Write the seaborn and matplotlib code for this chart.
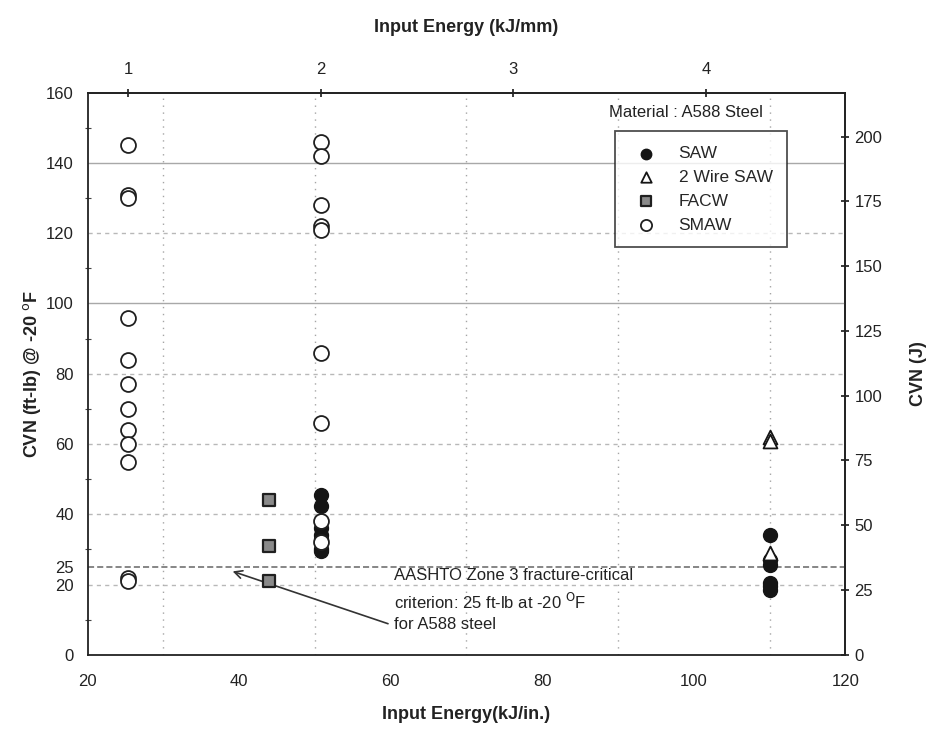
import numpy as np
import pandas as pd
import matplotlib
matplotlib.use("Agg")
import matplotlib.pyplot as plt
import seaborn as sns

# ---- data ----
saw_x = [50.8] * 7 + [110] * 6
saw_y = [45.5, 42.5, 36, 34, 33, 30, 29.5, 34, 27, 25.5, 20.5, 19.5, 18.5]
wire2_x = [110, 110, 110]
wire2_y = [62, 61, 29]
facw_x = [44, 44, 44]
facw_y = [44, 31, 21]
smaw_x = [25.4] * 12 + [50.8] * 9
smaw_y = [145, 131, 130, 96, 84, 77, 70, 64, 60, 55, 22, 21,
          146, 142, 128, 122, 121, 86, 66, 38, 32]

left_ticks = [0, 20, 25, 40, 60, 80, 100, 120, 140, 160]
right_ticks = [0, 25, 50, 75, 100, 125, 150, 175, 200]
bottom_ticks = [20, 40, 60, 80, 100, 120]
top_ticks = [1, 2, 3, 4]
criterion = 25
FTLB_TO_J = 1.3558
IN_PER_MM = 25.4

sns.set_theme(style="white")
plt.rcParams['font.family'] = ['Liberation Sans', 'DejaVu Sans']

fig = plt.figure(figsize=(9.31, 7.30), dpi=100)
ax = fig.add_axes([0.094, 0.103, 0.814, 0.770])

df_saw = pd.DataFrame({"x": saw_x, "y": saw_y})
df_w2 = pd.DataFrame({"x": wire2_x, "y": wire2_y})
df_facw = pd.DataFrame({"x": facw_x, "y": facw_y})
df_smaw = pd.DataFrame({"x": smaw_x, "y": smaw_y})

sns.scatterplot(data=df_saw, x="x", y="y", ax=ax, marker="o", s=100,
                color="#151515", edgecolor="#151515", linewidth=1.0,
                label="SAW", zorder=3)
sns.scatterplot(data=df_w2, x="x", y="y", ax=ax, marker="^", s=100,
                facecolor="white", edgecolor="#151515", linewidth=1.3,
                label="2 Wire SAW", zorder=4)
sns.scatterplot(data=df_facw, x="x", y="y", ax=ax, marker="s", s=85,
                color="#8a8a8a", edgecolor="#202020", linewidth=1.6,
                label="FACW", zorder=4)
sns.scatterplot(data=df_smaw, x="x", y="y", ax=ax, marker="o", s=115,
                facecolor="white", edgecolor="#202020", linewidth=1.3,
                label="SMAW", zorder=5)

ax.set_xlim(20, 120)
ax.set_ylim(0, 160)
ax.set_xticks(bottom_ticks)
ax.set_yticks(left_ticks)
ax.set_yticks(np.arange(0, 161, 10), minor=True)
ax.tick_params(axis='both', which='major', labelsize=12, direction='inout',
               length=6, width=1, colors='#222222', labelcolor='#222222')
ax.tick_params(axis='x', which='major', pad=11)
ax.tick_params(axis='y', which='major', pad=7)
ax.tick_params(axis='y', which='minor', direction='inout', length=4,
               width=0.8, left=True, colors='#444444')

# grid lines
for gx in [30, 50, 70, 90, 110]:
    ax.axvline(gx, color='#a5a5a5', lw=1.0, ls=(0, (1, 4)), zorder=1)
for gy in [20, 40, 60, 80, 120]:
    ax.axhline(gy, color='#b8b8b8', lw=1.0, ls=(0, (3, 3)), zorder=1)
for gy in [100, 140]:
    ax.axhline(gy, color='#a8a8a8', lw=1.0, ls='-', zorder=1)
ax.axhline(criterion, color='#666666', lw=1.1, ls=(0, (4, 2)), zorder=2)

for sp in ax.spines.values():
    sp.set_color('#222222')
    sp.set_linewidth(1.3)

ax.set_xlabel("Input Energy(kJ/in.)", fontsize=13, fontweight='bold',
              color='#222222', labelpad=12)
ax.set_ylabel("CVN (ft-lb) @ -20 $^{\\mathrm{o}}$F", fontsize=13,
              fontweight='bold', color='#222222', labelpad=2)

# top axis (kJ/mm)
top = ax.secondary_xaxis('top', functions=(lambda v: v / IN_PER_MM,
                                           lambda v: v * IN_PER_MM))
top.set_xticks(top_ticks)
top.tick_params(labelsize=12, direction='inout', length=6, colors='#222222',
                pad=8)
top.set_xlabel("Input Energy (kJ/mm)", fontsize=13, fontweight='bold',
               color='#222222', labelpad=22)

# right axis (J)
right = ax.secondary_yaxis('right', functions=(lambda v: v * FTLB_TO_J,
                                               lambda v: v / FTLB_TO_J))
right.set_yticks(right_ticks)
right.tick_params(labelsize=12, direction='inout', length=6, colors='#222222')
right.set_ylabel("CVN (J)", fontsize=13, fontweight='bold', color='#222222',
                 labelpad=20)

# legend
leg = ax.legend(loc='upper left', bbox_to_anchor=(0.685, 0.947), fontsize=12.5,
                frameon=True, fancybox=False, edgecolor='#222222',
                handletextpad=1.0, borderpad=0.85, labelspacing=0.5,
                handlelength=1.8, markerscale=0.75)
leg.get_frame().set_linewidth(1.3)
ax.text(0.688, 0.965, "Material : A588 Steel", transform=ax.transAxes,
        fontsize=12, color='#222222', ha='left', va='center')

# annotation
ax.text(60.5, 22.5, "AASHTO Zone 3 fracture-critical", fontsize=12,
        color='#222222', ha='left', va='center')
ax.text(60.5, 15.0, "criterion: 25 ft-lb at -20 $^{\\mathrm{O}}$F", fontsize=12,
        color='#222222', ha='left', va='center')
ax.text(60.5, 8.5, "for A588 steel", fontsize=12,
        color='#222222', ha='left', va='center')
ax.annotate("", xy=(38.8, 24.0), xytext=(60.0, 8.6),
            arrowprops=dict(arrowstyle='->', color='#333333', lw=1.2,
                            mutation_scale=14))

fig.savefig("out.png", dpi=100)
